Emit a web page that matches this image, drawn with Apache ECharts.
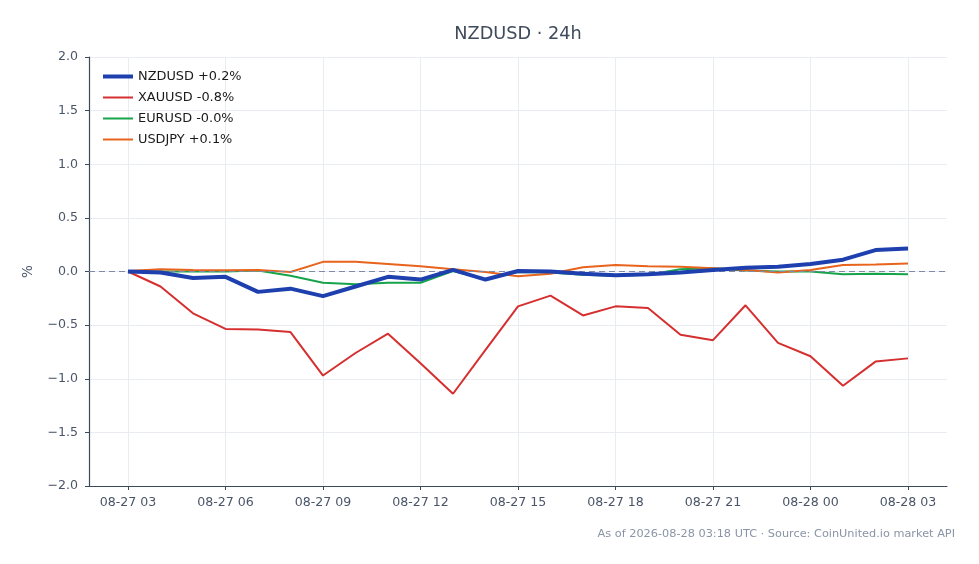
<!DOCTYPE html>
<html>
<head>
<meta charset="utf-8">
<title>NZDUSD 24h</title>
<script src="https://cdn.jsdelivr.net/npm/echarts@6/dist/echarts.min.js"></script>
<style>
  html, body { margin: 0; padding: 0; background: #fff; }
  #chart { width: 979px; height: 564px; }
</style>
</head>
<body>
<div id="chart"></div>
<script>
// hours since 08-27 03:00 UTC
var hours = [0, 1, 2, 3, 4, 5, 6, 7, 8, 9, 10, 11, 12, 13, 14, 15, 16, 17, 18, 19, 20, 21, 22, 23, 24];
var tickHours = [0, 3, 6, 9, 12, 15, 18, 21, 24];
var tickLabels = ['08-27 03', '08-27 06', '08-27 09', '08-27 12', '08-27 15', '08-27 18', '08-27 21', '08-28 00', '08-28 03'];

var nzdusd = [0, -0.01, -0.06, -0.05, -0.19, -0.16, -0.23, -0.14, -0.05, -0.075, 0.015, -0.075, 0.005,
  0.0, -0.02, -0.035, -0.025, -0.01, 0.015, 0.035, 0.045, 0.07, 0.11, 0.2, 0.215];
var xauusd = [0, -0.14, -0.39, -0.535, -0.54, -0.565, -0.97, -0.76, -0.58, -0.855, -1.14, -0.73, -0.325,
  -0.225, -0.41, -0.325, -0.34, -0.59, -0.64, -0.315, -0.665, -0.79, -1.065, -0.84, -0.81];
var eurusd = [0, 0, 0, 0, 0.01, -0.04, -0.105, -0.12, -0.105, -0.105, 0.005, -0.07, -0.005,
  -0.01, -0.03, -0.04, -0.03, 0.02, 0.03, 0.01, 0.0, 0.0, -0.025, -0.02, -0.025];
var usdjpy = [0.005, 0.02, 0.015, 0.012, 0.015, -0.005, 0.09, 0.09, 0.07, 0.05, 0.02, -0.005, -0.045,
  -0.02, 0.04, 0.06, 0.05, 0.045, 0.03, 0.015, -0.01, 0.015, 0.06, 0.065, 0.075];

var names = ['NZDUSD +0.2%', 'XAUUSD -0.8%', 'EURUSD -0.0%', 'USDJPY +0.1%'];
var colors = ['#1e40af', '#d62f2f', '#16a34a', '#e8631c'];
var widths = [4, 2, 2, 2];

function pairs(vals) {
  return hours.map(function (h, i) { return [h, vals[i]]; });
}

var FONT = 'DejaVu Sans';

var chart = echarts.init(document.getElementById('chart'));

var seriesList = [nzdusd, xauusd, eurusd, usdjpy].map(function (vals, i) {
  var s = {
    name: names[i],
    type: 'line',
    data: pairs(vals),
    showSymbol: false,
    z: i === 0 ? 5 : 3,
    lineStyle: { width: widths[i], color: colors[i] },
    itemStyle: { color: colors[i] }
  };
  if (i === 0) {
    // dashed zero reference
    s.markLine = {
      silent: true, symbol: 'none', label: { show: false },
      lineStyle: { type: [6, 4], color: '#7f8aa8', width: 1 },
      data: [{ yAxis: 0 }]
    };
  }
  return s;
});

var option = {
  animation: false,
  textStyle: { fontFamily: FONT },
  title: {
    text: 'NZDUSD · 24h',
    left: 513,
    top: 20,
    textAlign: 'center',
    textStyle: { fontFamily: FONT, fontSize: 17.7, fontWeight: 'normal', color: '#3f4a5a' }
  },
  legend: {
    orient: 'vertical',
    left: 98,
    top: 65,
    itemWidth: 30,
    itemHeight: 10,
    itemGap: 8,
    data: names.map(function (n, i) {
      return { name: n, icon: 'path://M0,0 H30 V' + widths[i] + ' H0 Z' };
    }),
    textStyle: { fontFamily: FONT, fontSize: 12.9, color: '#1a1a1a' }
  },
  grid: { left: 89, right: 32, top: 57, bottom: 78 },
  xAxis: {
    type: 'value',
    min: -1.2,
    max: 25.2,
    axisLine: { show: true, onZero: false, lineStyle: { color: '#3d4a5c', width: 1.2 } },
    axisTick: { show: true, length: 4, customValues: tickHours, lineStyle: { color: '#3d4a5c' } },
    axisLabel: {
      customValues: tickHours,
      margin: 10,
      fontSize: 12.6,
      color: '#4a5568',
      formatter: function (v) { return tickLabels[tickHours.indexOf(v)]; }
    },
    splitLine: { show: true, lineStyle: { color: '#e9ecf1' } }
  },
  yAxis: {
    type: 'value',
    min: -2,
    max: 2,
    interval: 0.5,
    name: '%',
    nameLocation: 'middle',
    nameGap: 54,
    nameTextStyle: { fontFamily: FONT, fontSize: 13.5, color: '#4a5568' },
    axisLine: { show: true, onZero: false, lineStyle: { color: '#3d4a5c', width: 1.2 } },
    axisTick: { show: true, length: 4, lineStyle: { color: '#3d4a5c' } },
    axisLabel: {
      margin: 11,
      fontSize: 12.6,
      color: '#4a5568',
      formatter: function (v) { return v.toFixed(1).replace('-', '\u2212'); }
    },
    splitLine: { show: true, lineStyle: { color: '#e9ecf1' } }
  },
  series: seriesList,
  graphic: [{
    type: 'text',
    right: 24,
    top: 529,
    style: {
      text: 'As of 2026-08-28 03:18 UTC · Source: CoinUnited.io market API',
      fontFamily: FONT,
      fontSize: 11.3,
      fill: '#8a94a6'
    }
  }]
};

chart.setOption(option);
</script>
</body>
</html>
